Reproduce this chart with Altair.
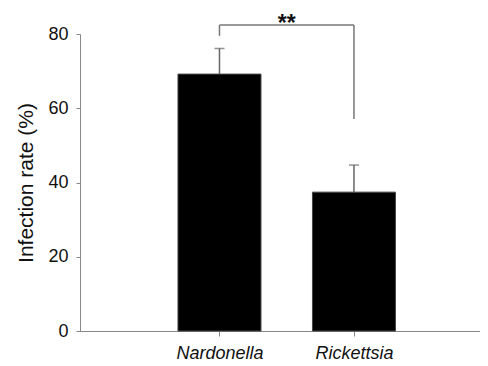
import json
import altair as alt
import pandas as pd

# ---- data ----
categories = ["Nardonella", "Rickettsia"]
positions = [1, 2]
rates = [69.2, 37.4]
errors = [6.9, 7.3]

# significance bracket (y values in %)
bracket_level = 82.4
bracket_left_end = 79.5
bracket_right_end = 57.1
sig_label = "**"

bars = pd.DataFrame({"pos": positions, "cat": categories, "rate": rates,
                     "top": [r + e for r, e in zip(rates, errors)]})
legs = pd.DataFrame({"pos": positions, "y1": [bracket_left_end, bracket_right_end],
                     "y2": [bracket_level, bracket_level]})
span = pd.DataFrame({"x1": [positions[0]], "x2": [positions[1]], "y": [bracket_level]})
star = pd.DataFrame({"x": [(positions[0] + positions[1]) / 2], "y": [bracket_level], "t": [sig_label]})

label_expr = json.dumps(categories) + "[datum.value - 1]"

xscale = alt.Scale(domain=[0, 2.9], nice=False, zero=False)
yscale = alt.Scale(domain=[0, 80], nice=False)

xaxis = alt.Axis(values=positions, labelExpr=label_expr, title=None, grid=False,
                 labelFontStyle="italic", labelFontSize=18, labelColor="#111",
                 labelPadding=8, tickSize=5, tickColor="#888", domainColor="#888",
                 labelFont="Liberation Sans")
yaxis = alt.Axis(values=[0, 20, 40, 60, 80], title="Infection rate (%)", grid=False,
                 labelFontSize=18, labelColor="#111", labelPadding=8, tickSize=4,
                 tickColor="#888", domainColor="#888", titleFontSize=21,
                 titleFontWeight="normal", titleColor="#111", titlePadding=11,
                 labelFont="Liberation Sans", titleFont="Liberation Sans")

base = alt.Chart(bars)

bar = base.mark_bar(size=83, color="black", stroke="#444", strokeWidth=1).encode(
    x=alt.X("pos:Q", scale=xscale, axis=xaxis),
    y=alt.Y("rate:Q", scale=yscale, axis=yaxis),
)

err = base.mark_rule(color="#666", strokeWidth=1.5).encode(
    x="pos:Q", y="rate:Q", y2="top:Q")
cap = base.mark_tick(orient="horizontal", size=10, thickness=1.5, color="#666").encode(
    x="pos:Q", y="top:Q")

leg = alt.Chart(legs).mark_rule(color="#777", strokeWidth=1.5).encode(
    x="pos:Q", y="y1:Q", y2="y2:Q")
hor = alt.Chart(span).mark_rule(color="#777", strokeWidth=1.5).encode(
    x="x1:Q", x2="x2:Q", y="y:Q")
txt = alt.Chart(star).mark_text(fontSize=23, fontWeight="bold", baseline="alphabetic",
                                dy=6, font="Liberation Sans", color="#111").encode(
    x="x:Q", y="y:Q", text="t:N")

chart = alt.layer(bar, err, cap, leg, hor, txt).properties(
    width=400, height=297, autosize="none",
    padding={"left": 72, "top": 26, "right": 0, "bottom": 33},
).configure_view(stroke=None).configure_axisY(domainWidth=1).configure_axisX(domainWidth=1)

chart.save("out.html", embed_options={"renderer": "svg", "actions": False})
